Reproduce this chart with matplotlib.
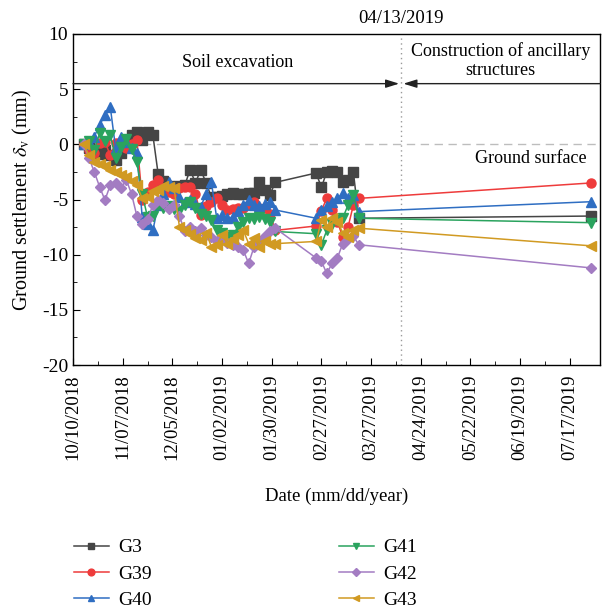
import numpy as np
import matplotlib
matplotlib.use("Agg")
import matplotlib.pyplot as plt
import matplotlib.dates as mdates

plt.rcParams['font.family'] = ['Liberation Serif', 'DejaVu Serif']
plt.rcParams['mathtext.fontset'] = 'stix'
plt.rcParams['axes.unicode_minus'] = False

# ── data ────────────────────────────────────────────────────────────────
DATES = [
    "2018-10-16", "2018-10-19", "2018-10-22", "2018-10-25", "2018-10-28", "2018-10-31",
    "2018-11-03", "2018-11-06", "2018-11-09", "2018-11-12", "2018-11-15", "2018-11-18",
    "2018-11-21", "2018-11-24", "2018-11-27", "2018-11-30", "2018-12-03", "2018-12-06",
    "2018-12-09", "2018-12-12", "2018-12-15", "2018-12-18", "2018-12-21", "2018-12-24",
    "2018-12-27", "2018-12-30", "2019-01-02", "2019-01-05", "2019-01-08", "2019-01-11",
    "2019-01-14", "2019-01-17", "2019-01-20", "2019-01-23", "2019-01-26", "2019-01-29",
    "2019-02-01",
    "2019-02-24", "2019-02-27", "2019-03-02", "2019-03-05", "2019-03-08", "2019-03-11",
    "2019-03-14", "2019-03-17", "2019-03-20",
    "2019-07-29",
]

G3 = [0, -0.3, -0.6, -0.9, -0.5, -1.0, -1.4, -0.8, 0.3, 0.85, 1.15, 0.4, 1.15, 0.85, -2.7,
      -3.3, -3.8, -3.9, -3.8, -3.7, -2.3, -3.5, -2.3, -3.5, -4.8, -4.75, -4.65, -4.5, -4.45,
      -4.5, -4.5, -4.4, -4.4, -3.45, -4.1, -4.55, -3.45,
      -2.6, -3.9, -2.5, -2.4, -2.5, -3.45, -3.2, -2.5, -6.7,
      -6.5]
G39 = [0, -0.5, -0.8, 0.1, 0.25, -1.0, 0.1, 0.25, -0.3, 0.0, 0.4, -5.0, -4.3, -3.7, -3.2,
       -4.0, -4.3, -4.5, -4.0, -3.9, -3.85, -4.5, -6.4, -5.6, -5.2, -4.9, -5.5, -5.95, -5.9,
       -5.8, -5.8, -5.5, -5.2, -5.8, -5.8, -6.3, -7.8,
       -7.4, -6.0, -4.9, -5.95, -7.0, -8.4, -7.5, -5.5, -4.9,
       -3.5]
G40 = [0, 0.25, 0.7, 1.75, 2.65, 3.4, -0.35, 0.7, 0.2, -0.3, -0.8, -6.6, -7.2, -7.8, -5.5,
       -4.5, -3.4, -4.0, -4.8, -5.2, -5.0, -5.4, -5.65, -4.5, -3.45, -6.7, -6.4, -6.7, -6.6,
       -6.0, -5.5, -5.05, -5.5, -5.6, -5.4, -5.2, -5.95,
       -6.7, -5.95, -5.6, -5.2, -4.9, -4.45, -4.9, -4.6, -6.1,
       -5.2]
G41 = [0, 0.3, -0.5, 1.0, 0.3, 0.85, -1.25, -0.2, 0.5, -0.4, -1.6, -4.5, -6.6, -6.5, -5.5,
       -5.8, -5.6, -5.9, -6.0, -5.5, -5.2, -5.8, -6.3, -6.5, -6.9, -7.8, -8.0, -8.4, -8.2,
       -7.5, -7.0, -6.7, -6.8, -6.6, -6.8, -7.0, -7.9,
       -8.1, -9.1, -7.8, -7.2, -6.9, -6.7, -5.5, -4.6, -6.7,
       -7.1]
G42 = [0, -1.25, -2.5, -3.85, -5.05, -3.7, -3.5, -4.0, -3.2, -4.5, -6.5, -7.2, -6.8, -5.5, -5.0,
       -5.3, -5.9, -5.5, -6.5, -7.9, -7.5, -7.9, -7.6, -8.2, -8.4, -8.8, -8.5, -8.9, -9.1,
       -9.3, -9.6, -10.8, -9.3, -8.8, -8.3, -7.9, -7.6,
       -10.3, -10.6, -11.7, -10.8, -10.3, -9.0, -8.6, -8.3, -9.1,
       -11.2]
G43 = [0, -1.0, -1.6, -1.8, -2.0, -2.3, -2.5, -2.8, -3.0, -3.3, -3.7, -4.9, -4.75, -4.2, -4.1,
       -3.8, -3.9, -4.0, -7.5, -7.8, -8.1, -8.5, -8.7, -8.0, -9.3, -9.1, -8.2, -9.0, -8.6,
       -8.2, -7.8, -9.0, -8.5, -9.3, -8.8, -9.0, -9.0,
       -8.8, -6.9, -7.5, -6.7, -7.0, -8.0, -8.4, -7.8, -7.6,
       -9.2]

SERIES = ["G3", "G39", "G40", "G41", "G42", "G43"]
TICK_DATES = ["2018-10-10", "2018-11-07", "2018-12-05", "2019-01-02", "2019-01-30",
              "2019-02-27", "2019-03-27", "2019-04-24", "2019-05-22", "2019-06-19",
              "2019-07-17"]
SPLIT_DATE = "2019-04-13"

# ── style ───────────────────────────────────────────────────────────────
STYLES = {
    "G3":  dict(color="#454545", marker="s"),
    "G39": dict(color="#ee3b3b", marker="o"),
    "G40": dict(color="#2f6ec2", marker="^"),
    "G41": dict(color="#2aa35e", marker="v"),
    "G42": dict(color="#a37cc2", marker="D", markersize=5.5),
    "G43": dict(color="#d19a22", marker="<"),
}

x = mdates.datestr2num(DATES)
values = {"G3": G3, "G39": G39, "G40": G40, "G41": G41, "G42": G42, "G43": G43}

fig = plt.figure(figsize=(6.02, 6.10), dpi=100)
ax = fig.add_axes([73 / 602, 1 - 365 / 610, 527 / 602, 331 / 610])

handles = []
for name in SERIES:
    st = dict(markersize=6.5, linewidth=1.1)
    st.update(STYLES[name])
    h, = ax.plot(x, values[name], label=name, zorder=3, **st)
    handles.append(h)

ticks = mdates.datestr2num(TICK_DATES)
ax.set_xlim(mdates.datestr2num("2018-10-10"), mdates.datestr2num("2019-08-03"))
ax.set_ylim(-20, 10)
ax.set_xticks(ticks)
ax.set_xticks(ticks[:-1] + 14, minor=True)
ax.xaxis.set_major_formatter(mdates.DateFormatter("%m/%d/%Y"))
ax.set_yticks([10, 5, 0, -5, -10, -15, -20])
ax.set_yticks(np.arange(-17.5, 10, 5), minor=True)
ax.tick_params(axis="x", which="major", rotation=90, labelsize=13.5, direction="in",
               length=5, pad=7)
ax.tick_params(axis="y", which="major", labelsize=14, direction="in", length=5)
ax.tick_params(which="minor", direction="in", length=3)
ax.tick_params(top=False, right=False)
for sp in ax.spines.values():
    sp.set_linewidth(1.0)

ax.set_xlabel("Date (mm/dd/year)", fontsize=13.5, labelpad=20)
ax.set_ylabel(r"Ground settlement $\delta_{\mathrm{v}}$ (mm)", fontsize=14.5, labelpad=6)

# ground surface
ax.axhline(0, color="#bdbdbd", linestyle=(0, (6, 4)), linewidth=1.0, zorder=1)
ax.text(mdates.datestr2num("2019-06-25"), -1.3, "Ground surface", ha="center", va="center",
        fontsize=13)

# construction stages
split = mdates.datestr2num(SPLIT_DATE)
ax.axvline(split, color="#9a9a9a", linestyle=(0, (1, 2.5)), linewidth=1.0, zorder=1)
x0, x1 = ax.get_xlim()
ax.annotate("", xy=(split - 1.2, 5.5), xytext=(x0, 5.5),
            arrowprops=dict(arrowstyle="-|>,head_length=0.8,head_width=0.25",
                            color="#222222", lw=1.0, shrinkA=0, shrinkB=0))
ax.annotate("", xy=(split + 1.2, 5.5), xytext=(x1, 5.5),
            arrowprops=dict(arrowstyle="-|>,head_length=0.8,head_width=0.25",
                            color="#222222", lw=1.0, shrinkA=0, shrinkB=0))
ax.text((x0 + split) / 2, 7.4, "Soil excavation", ha="center", va="center", fontsize=13)
ax.text((split + x1) / 2, 7.6, "Construction of ancillary\nstructures", ha="center",
        va="center", fontsize=13, linespacing=1.15)
ax.text(split, 10.6, SPLIT_DATE[5:7] + "/" + SPLIT_DATE[8:10] + "/" + SPLIT_DATE[:4],
        ha="center", va="bottom", fontsize=13.5)

fig.legend(handles=handles, loc="upper left", bbox_to_anchor=(66 / 602, 1 - 531 / 610),
           ncol=2, frameon=False, fontsize=14, handlelength=1.8, columnspacing=9.6,
           labelspacing=0.45, handletextpad=0.5, borderaxespad=0, markerscale=0.75)

fig.savefig("out.png", dpi=100, facecolor="white")
